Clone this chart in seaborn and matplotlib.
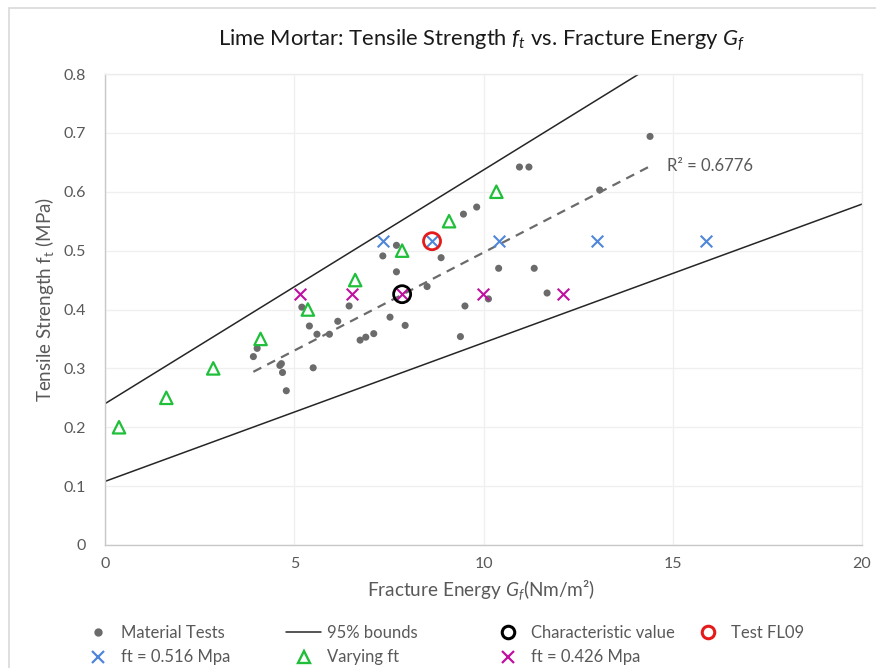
import numpy as np
import pandas as pd
import matplotlib
matplotlib.use("Agg")
import matplotlib.pyplot as plt
import seaborn as sns
from matplotlib.lines import Line2D
from matplotlib.patches import Rectangle

# ---------------- data ----------------
mat_gf = [3.92, 4.02, 4.62, 4.66, 4.69, 4.79, 5.20, 5.40, 5.50, 5.60, 5.93, 6.15,
          6.45, 6.74, 6.89, 7.10, 7.34, 7.53, 7.70, 7.70, 7.93, 8.51, 8.88, 9.39,
          9.47, 9.51, 9.82, 10.13, 10.40, 10.95, 11.20, 11.34, 11.68, 13.07, 14.40]
mat_ft = [0.320, 0.334, 0.305, 0.308, 0.293, 0.262, 0.404, 0.372, 0.301, 0.358, 0.358, 0.380,
          0.406, 0.348, 0.353, 0.359, 0.491, 0.387, 0.509, 0.464, 0.373, 0.439, 0.488, 0.354,
          0.562, 0.406, 0.574, 0.418, 0.470, 0.642, 0.642, 0.470, 0.428, 0.603, 0.694]

blue_gf = [7.34, 8.64, 10.42, 12.99, 15.88]
blue_ft = [0.516, 0.516, 0.516, 0.516, 0.516]

mag_gf = [5.16, 6.53, 7.85, 9.98, 12.09]
mag_ft = [0.426, 0.426, 0.426, 0.426, 0.426]

vary_gf = [0.37, 1.62, 2.86, 4.11, 5.36, 6.61, 7.85, 9.09, 10.34]
vary_ft = [0.20, 0.25, 0.30, 0.35, 0.40, 0.45, 0.50, 0.55, 0.60]

char_gf = [7.85]
char_ft = [0.426]
fl09_gf = [8.64]
fl09_ft = [0.516]

# 95% bounds (intercept, slope)
upper_bound = [0.240, 0.0397]
lower_bound = [0.108, 0.02355]
bound_x = [0, 20]

r2_text = "R² = 0.6776"

x_ticks = [0, 5, 10, 15, 20]
y_ticks = [0, 0.1, 0.2, 0.3, 0.4, 0.5, 0.6, 0.7, 0.8]
y_tick_labels = ["0", "0.1", "0.2", "0.3", "0.4", "0.5", "0.6", "0.7", "0.8"]

# ---------------- style ----------------
sns.set_theme(style="white")
plt.rcParams["font.family"] = ["Lato", "DejaVu Sans"]
plt.rcParams["mathtext.fontset"] = "custom"
plt.rcParams["mathtext.rm"] = "Lato"
plt.rcParams["mathtext.it"] = "Lato:italic"

GRAY_TXT = "#595959"
DOT = "#6b6b6b"
BLUE = "#4f86d9"
MAG = "#c0109e"
GREEN = "#1fbf3a"
RED = "#e51a1a"

W, H = 876, 668
fig = plt.figure(figsize=(W / 100, H / 100), dpi=100)
fig.patch.set_facecolor("white")
ax = fig.add_axes([105 / W, 1 - 545 / H, (862 - 105) / W, (545 - 74) / H])

# chart-area border
fig.add_artist(Rectangle((9 / W, -0.1), 1.2, 1 - 8 / H + 0.1, transform=fig.transFigure,
                         fill=False, edgecolor="#d9d9d9", linewidth=1.2))

ax.set_xlim(0, 20)
ax.set_ylim(0, 0.8)

# bounds
xb = np.array(bound_x, dtype=float)
for b in (upper_bound, lower_bound):
    sns.lineplot(x=xb, y=b[0] + b[1] * xb, color="#262626", linewidth=1.1, ax=ax, zorder=2)

# trendline of material tests
coef = np.polyfit(mat_gf, mat_ft, 1)
xt = np.array([min(mat_gf), max(mat_gf)])
sns.lineplot(x=xt, y=np.polyval(coef, xt), color="#6b6b6b", linewidth=1.6,
             linestyle=(0, (4, 3)), ax=ax, zorder=2)

# points
sns.scatterplot(x=mat_gf, y=mat_ft, color=DOT, s=26, edgecolor="none", ax=ax, zorder=3)
sns.scatterplot(x=vary_gf, y=vary_ft, marker="^", color=GREEN, facecolor="none",
                edgecolor=GREEN, s=80, linewidth=1.6, ax=ax, zorder=4)
sns.scatterplot(x=blue_gf, y=blue_ft, marker="x", color=BLUE, edgecolor=BLUE,
                s=70, linewidth=1.5, ax=ax, zorder=4)
sns.scatterplot(x=mag_gf, y=mag_ft, marker="x", color=MAG, edgecolor=MAG,
                s=70, linewidth=1.5, ax=ax, zorder=4)
sns.scatterplot(x=char_gf, y=char_ft, marker="o", color="black", facecolor="none",
                edgecolor="black", s=150, linewidth=2.0, ax=ax, zorder=5)
sns.scatterplot(x=fl09_gf, y=fl09_ft, marker="o", color=RED, facecolor="none",
                edgecolor=RED, s=150, linewidth=2.0, ax=ax, zorder=5)

ax.text(14.86, 0.643, r2_text, color=GRAY_TXT, fontsize=12, va="center", ha="left")

# axes styling
ax.set_xticks(x_ticks)
ax.set_xticklabels([str(t) for t in x_ticks])
ax.set_yticks(y_ticks)
ax.set_yticklabels(y_tick_labels)
ax.tick_params(axis="both", length=0, labelsize=11.5, labelcolor=GRAY_TXT)
ax.tick_params(axis="x", pad=9)
ax.tick_params(axis="y", pad=14)
ax.grid(True, color="#efefef", linewidth=0.9)
ax.set_axisbelow(True)
for side in ("top", "right"):
    ax.spines[side].set_color("#ececec")
    ax.spines[side].set_linewidth(1.0)
for side in ("left", "bottom"):
    ax.spines[side].set_color("#c8c8c8")
    ax.spines[side].set_linewidth(1.0)
ax.set_xlabel("")
ax.set_ylabel("")

fig.text(482 / W, 1 - 40 / H, r"Lime Mortar: Tensile Strength $f_t$ vs. Fracture Energy $G_f$",
         ha="center", va="center", fontsize=15.8, color="#1a1a1a")
fig.text(481 / W, 1 - 590 / H, r"Fracture Energy $G_f$(Nm/m²)",
         ha="center", va="center", fontsize=13.7, color=GRAY_TXT)
fig.text(45 / W, 1 - 300 / H, r"Tensile Strength f$_\mathrm{t}$ (MPa)",
         ha="center", va="center", rotation=90, fontsize=13.5, color=GRAY_TXT)

# legend: four columns placed like the Excel legend
h_mat = Line2D([], [], marker="o", ls="", color=DOT, markersize=5)
h_blue = Line2D([], [], marker="x", ls="", color=BLUE, markersize=9, markeredgewidth=1.6)
h_bound = Line2D([], [], color="#262626", linewidth=1.1)
h_vary = Line2D([], [], marker="^", ls="", color=GREEN, markerfacecolor="none",
                markersize=9, markeredgewidth=1.7)
h_char = Line2D([], [], marker="o", ls="", color="black", markerfacecolor="none",
                markersize=9, markeredgewidth=2.2)
h_mag = Line2D([], [], marker="x", ls="", color=MAG, markersize=9, markeredgewidth=1.6)
h_fl = Line2D([], [], marker="o", ls="", color=RED, markerfacecolor="none",
              markersize=9, markeredgewidth=2.2)

columns = [
    ([h_mat, h_blue], ["Material Tests", "ft = 0.516 Mpa"], 80),
    ([h_bound, h_vary], ["95% bounds", "Varying ft"], 286),
    ([h_char, h_mag], ["Characteristic value", "ft = 0.426 Mpa"], 490),
    ([h_fl], ["Test FL09"], 690),
]
for hs, ls_, xpx in columns:
    fig.legend(hs, ls_, loc="upper left", bbox_to_anchor=(xpx / W, 1 - 625 / H),
               frameon=False, fontsize=12, labelcolor=GRAY_TXT, handlelength=2.1,
               handletextpad=0.35, labelspacing=0.5, borderpad=0, borderaxespad=0)

fig.savefig("out.png", dpi=100, facecolor="white")
